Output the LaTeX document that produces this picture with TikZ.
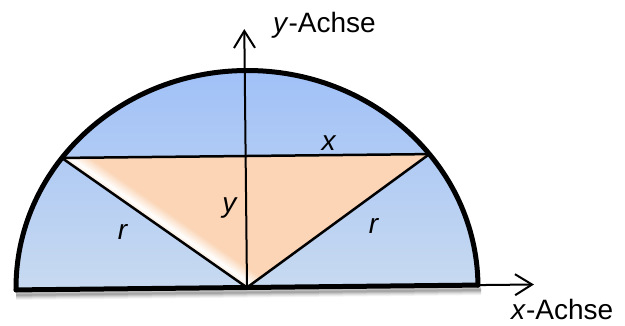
\documentclass[tikz,border=0pt]{standalone}
\usepackage{fontspec}
\setmainfont{Liberation Sans}
\usetikzlibrary{arrows.meta,calc}
\definecolor{bluetop}{HTML}{A0C0F7}
\definecolor{bluebot}{HTML}{C8DAF0}
\definecolor{peach}{HTML}{FBD5B5}
\begin{document}
\begin{tikzpicture}[x=1pt,y=1pt,
  lbl/.style={font=\fontsize{28}{30}\selectfont, inner sep=0pt},
  thick line/.style={line width=5pt, line cap=round, line join=round},
  thin line/.style={line width=2.5pt, line join=round},
  axis/.style={line width=2pt, -{Straight Barb[length=17pt,width=21pt,line width=2pt]}},
]
\useasboundingbox (0,0) rectangle (625,325);
\begin{scope}[shift={(247,37.5)}, rotate=0.6]
  \coordinate (O) at (0,0);
  \coordinate (L) at (-231,0);
  \coordinate (R) at (231,0);
  \coordinate (P) at (-183.8,131.5);
  \coordinate (Q) at (183.8,131.5);
  \coordinate (Ytip) at (0,258.5);
  \coordinate (Xtip) at (287,0);
  % shadow
  \foreach \d/\o in {10/0.05,8/0.06,6/0.08,4/0.10,2/0.12}{
    \draw[line width=\d pt, black, opacity=\o] ([yshift=-5pt]L) -- ([yshift=-5pt,xshift=3pt]R);
  }
  % blue half ellipse
  \shade[top color=bluetop, bottom color=bluebot]
    (L) arc[start angle=180, end angle=0, x radius=231pt, y radius=217pt] -- cycle;
  % triangle
  \fill[peach] (P) -- (Q) -- (O) -- cycle;
  \begin{scope}
    \clip (P) -- (Q) -- (O) -- cycle;
    \foreach \s in {0,1,...,17}{
      \pgfmathsetmacro{\k}{\s<=5 ? 50+10*\s : 100*(1-(\s-5)/12)}
      \draw[line width=1.3pt, white!\k!peach]
        ($(O)+(\s*0.582,\s*0.814)+(30*0.814,-30*0.582)$) --
        ($(P)+(\s*0.582,\s*0.814)+(-30*0.814,30*0.582)$);
    }
  \end{scope}
  % lines
  \draw[thin line] (P) -- (Q);
  \draw[thin line] (P) -- (O) -- (Q);
  \draw[axis] (O) -- (Ytip);
  \draw[axis] (R) -- (Xtip);
  \draw[thick line] (L) arc[start angle=180, end angle=0, x radius=231pt, y radius=217pt];
  \draw[thick line] (L) -- (R);
\end{scope}
% labels
\node[lbl, anchor=base west] (ylab) at (273,293) {\textit{y}-Achse};
\node[lbl, anchor=base west] (xlab) at (511,6) {\textit{x}-Achse};
\node[lbl] (xl) at (329,182) {\textit{x}};
\node[lbl] (yl) at (230,117) {\textit{y}};
\node[lbl] (rl) at (123,93.5) {\textit{r}};
\node[lbl] (rr) at (374,99) {\textit{r}};
\end{tikzpicture}
\end{document}
